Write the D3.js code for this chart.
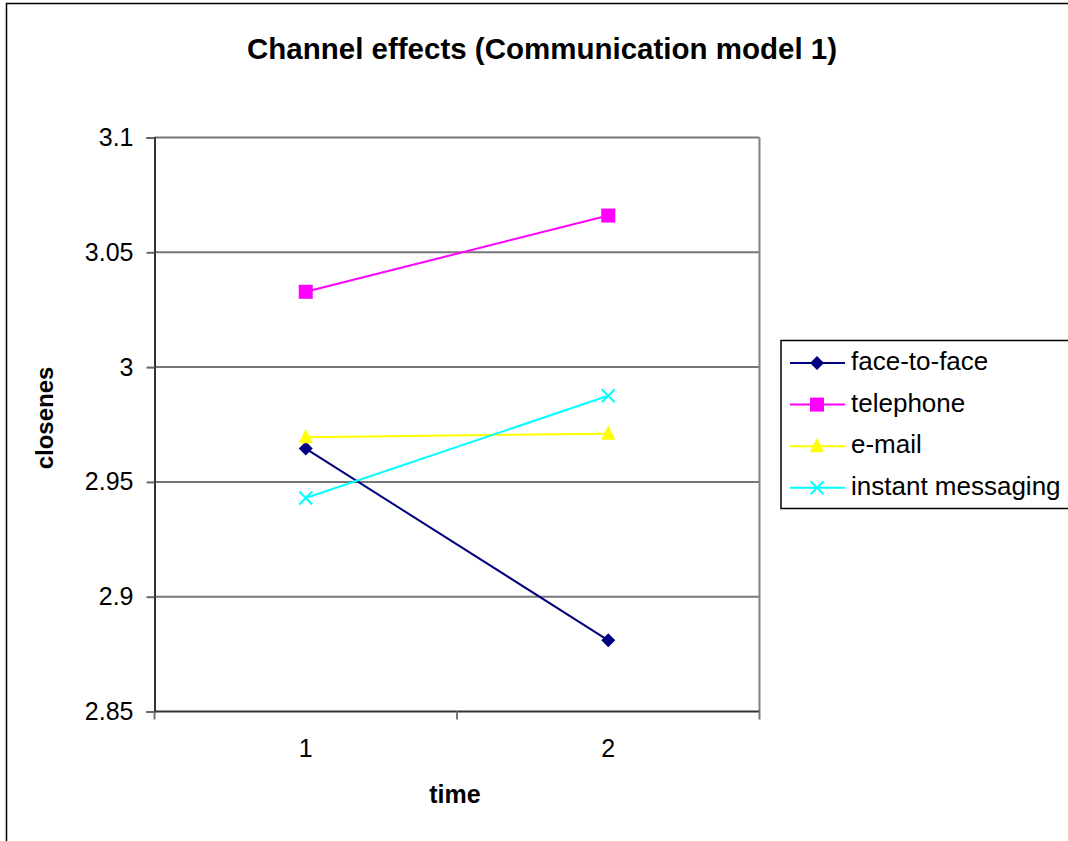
<!DOCTYPE html>
<meta charset="utf-8">
<style>
body { margin: 0; background: #fff; }
svg text { font-family: "Liberation Sans", Arial, sans-serif; fill: #000; }
</style>
<svg width="1068" height="841"></svg>
<script src="https://d3js.org/d3.v7.min.js"></script>
<script>
// chart values
var times = ["1", "2"];
var series = ["face-to-face", "telephone", "e-mail", "instant messaging"];
var faceToFace = [2.9645, 2.881];
var telephone = [3.0328, 3.066];
var email = [2.9695, 2.971];
var instantMessaging = [2.943, 2.9875];
var yTicks = [2.85, 2.9, 2.95, 3, 3.05, 3.1];

var colors = ["#000080", "#ff00ff", "#ffff00", "#00ffff"];
var shapes = ["diamond", "square", "triangle", "cross"];
var values = [faceToFace, telephone, email, instantMessaging];

var svg = d3.select("svg");

// outer chart frame (cut off at right and bottom)
svg.append("path")
  .attr("d", "M6.5,841 V3.5 H1068")
  .attr("fill", "none")
  .attr("stroke", "#000")
  .attr("stroke-width", 1.5);

var plotLeft = 154.5, plotRight = 759.5, plotTop = 137.5, plotBottom = 711.5;

var x = d3.scaleBand().domain(times).range([plotLeft, plotRight]);
var y = d3.scaleLinear().domain([2.85, 3.1]).range([plotBottom, plotTop]);

// gridlines
svg.append("g").selectAll("line")
  .data(yTicks.slice(1))
  .enter().append("line")
  .attr("x1", plotLeft).attr("x2", plotRight)
  .attr("y1", function(d) { return y(d); })
  .attr("y2", function(d) { return y(d); })
  .attr("stroke", "#777")
  .attr("stroke-width", 2);

// plot right border
svg.append("line")
  .attr("x1", plotRight).attr("x2", plotRight)
  .attr("y1", plotTop).attr("y2", plotBottom)
  .attr("stroke", "#808080").attr("stroke-width", 2);

// y axis
var yAxis = svg.append("g")
  .attr("transform", "translate(" + plotLeft + ",0)")
  .call(d3.axisLeft(y).tickValues(yTicks).tickSize(8).tickPadding(13)
    .tickFormat(function(d) { return String(+d.toFixed(2)); }));
yAxis.select(".domain").attr("stroke", "#333").attr("stroke-width", 2);
yAxis.selectAll(".tick line").attr("stroke", "#666").attr("stroke-width", 2);
yAxis.selectAll("text").style("font-size", "25px").attr("fill", "#000");

// x axis
var xAxis = svg.append("g")
  .attr("transform", "translate(0," + plotBottom + ")")
  .call(d3.axisBottom(x).tickSize(0).tickPadding(28));
xAxis.select(".domain").attr("stroke", "#333").attr("stroke-width", 2)
  .attr("d", "M" + plotLeft + ",0H" + plotRight);
xAxis.selectAll("text").style("font-size", "25px").attr("fill", "#000");
svg.append("g").selectAll("line")
  .data([plotLeft, plotLeft + x.step(), plotRight])
  .enter().append("line")
  .attr("x1", function(d) { return d; }).attr("x2", function(d) { return d; })
  .attr("y1", plotBottom).attr("y2", plotBottom + 8)
  .attr("stroke", "#777").attr("stroke-width", 2);

// title and axis titles
svg.append("text")
  .attr("x", 542).attr("y", 59)
  .attr("text-anchor", "middle")
  .style("font-size", "29.5px").style("font-weight", "bold")
  .text("Channel effects (Communication model 1)");

svg.append("text")
  .attr("x", 455).attr("y", 803)
  .attr("text-anchor", "middle")
  .style("font-size", "25px").style("font-weight", "bold")
  .text("time");

svg.append("text")
  .attr("transform", "translate(53,418) rotate(-90)")
  .attr("text-anchor", "middle")
  .style("font-size", "24px").style("font-weight", "bold")
  .text("closenes");

function marker(g, shape, color) {
  if (shape === "diamond") {
    g.append("path").attr("d", "M0,-7L7,0L0,7L-7,0Z").attr("fill", color);
  } else if (shape === "square") {
    g.append("rect").attr("x", -7).attr("y", -7).attr("width", 14).attr("height", 14).attr("fill", color);
  } else if (shape === "triangle") {
    g.append("path").attr("d", "M0,-8.5L7,6L-7,6Z").attr("fill", color);
  } else {
    g.append("path").attr("d", "M-6.5,-6.5L6.5,6.5M-6.5,6.5L6.5,-6.5").attr("stroke", color).attr("stroke-width", 2).attr("fill", "none");
  }
}

var line = d3.line()
  .x(function(d, i) { return x(times[i]) + x.bandwidth() / 2; })
  .y(function(d) { return y(d); });

series.forEach(function(name, k) {
  var g = svg.append("g");
  g.append("path")
    .datum(values[k])
    .attr("d", line)
    .attr("fill", "none")
    .attr("stroke", colors[k])
    .attr("stroke-width", 2);
  values[k].forEach(function(v, i) {
    var m = g.append("g")
      .attr("transform", "translate(" + (x(times[i]) + x.bandwidth() / 2) + "," + y(v) + ")");
    marker(m, shapes[k], colors[k]);
  });
});

// legend (box runs past the right edge)
var legend = svg.append("g");
legend.append("rect")
  .attr("x", 781).attr("y", 340.5)
  .attr("width", 300).attr("height", 168)
  .attr("fill", "#fff").attr("stroke", "#000").attr("stroke-width", 1.5);
series.forEach(function(name, k) {
  var cy = 363 + k * 41.6;
  var item = legend.append("g");
  item.append("line")
    .attr("x1", 790).attr("x2", 845)
    .attr("y1", cy).attr("y2", cy)
    .attr("stroke", colors[k]).attr("stroke-width", 2);
  marker(item.append("g").attr("transform", "translate(817," + cy + ")"), shapes[k], colors[k]);
  item.append("text")
    .attr("x", 851).attr("y", cy + 7)
    .style("font-size", "26px")
    .text(name);
});
</script>
